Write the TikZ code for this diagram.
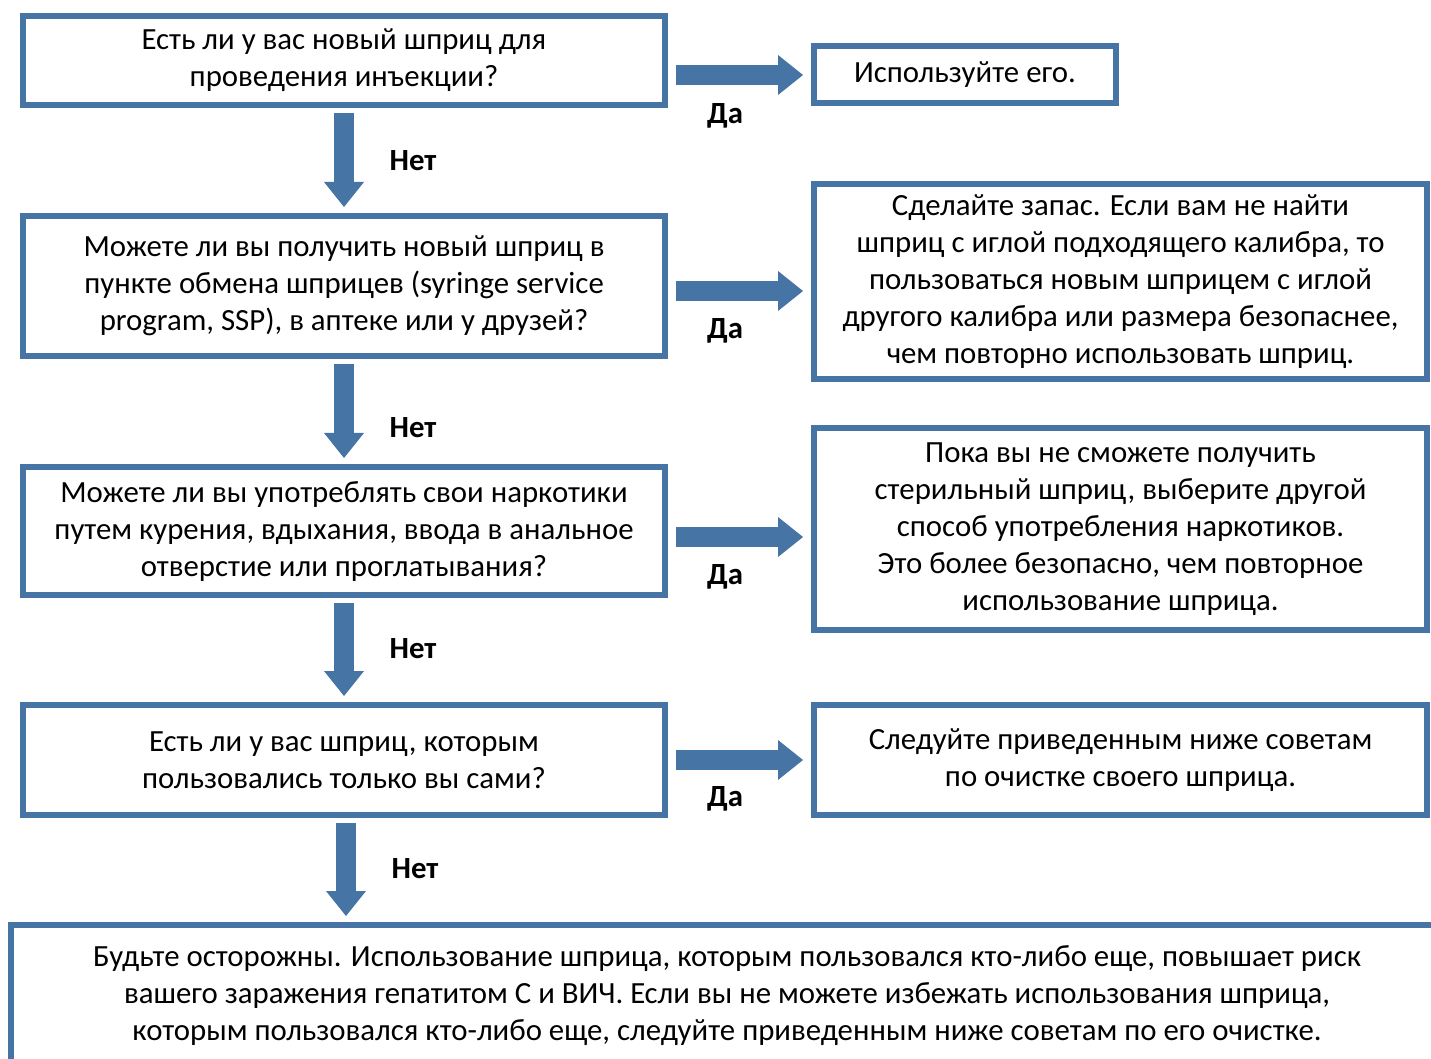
\documentclass[tikz,border=0pt]{standalone}
\usepackage{fontspec}
\setmainfont{Carlito}
\usetikzlibrary{arrows.meta, positioning}
\definecolor{boxcolor}{HTML}{4674A5}

\begin{document}
\begin{tikzpicture}[x=0.5pt, y=-0.5pt,
    qbox/.style={draw=boxcolor, line width=3pt, outer sep=1.5pt, inner sep=0pt,
                 minimum width=321pt, align=center,
                 font=\fontsize{15.4}{18.5}\selectfont},
    abox/.style={qbox, minimum width=306.5pt},
    flow/.style={draw=boxcolor, line width=10pt,
                 -{Triangle[width=20pt, length=12.5pt, line width=0pt]}},
    down/.style={flow, shorten <=2.5pt, shorten >=3pt},
    side/.style={flow, shorten <=4pt, shorten >=4pt},
    lbl/.style={font=\fontsize{15.4}{18}\selectfont\bfseries}
]
    \clip (0,0) rectangle (1431,1059);

    % questions
    \node[qbox, minimum height=44.5pt] (q1) at (344,60.5)
        {Есть ли у вас новый шприц для\\проведения инъекции?};
    \node[qbox, minimum height=70pt] (q2) at (344,286)
        {Можете ли вы получить новый шприц в\\пункте обмена шприцев (syringe service\\program, SSP), в аптеке или у друзей?};
    \node[qbox, minimum height=64pt] (q3) at (344,531)
        {Можете ли вы употреблять свои наркотики\\путем курения, вдыхания, ввода в анальное\\отверстие или проглатывания?};
    \node[qbox, minimum height=55pt] (q4) at (344,760)
        {Есть ли у вас шприц, которым\\пользовались только вы сами?};

    % answers
    \node[abox, minimum width=151pt, minimum height=28.5pt] (r1) at (965,74.5)
        {Используйте его.};
    \node[abox, minimum height=97.5pt] (r2) at (1120.5,281.5)
        {Сделайте запас. Если вам не найти\\шприц с иглой подходящего калибра, то\\пользоваться новым шприцем с иглой\\другого калибра или размера безопаснее,\\чем повторно использовать шприц.};
    \node[abox, minimum height=101pt] (r3) at (1120.5,529)
        {Пока вы не сможете получить\\стерильный шприц, выберите другой\\способ употребления наркотиков.\\Это более безопасно, чем повторное\\использование шприца.};
    \node[abox, minimum height=55pt] (r4) at (1120.5,760)
        {Следуйте приведенным ниже советам\\по очистке своего шприца.};

    \node[qbox, minimum width=716pt, minimum height=71pt] (end) at (727,996)
        {Будьте осторожны. Использование шприца, которым пользовался кто-либо еще, повышает риск\\вашего заражения гепатитом С и ВИЧ. Если вы не можете избежать использования шприца,\\которым пользовался кто-либо еще, следуйте приведенным ниже советам по его очистке.};

    % no
    \draw[down] (q1.south) -- (q2.north);
    \draw[down] (q2.south) -- (q3.north);
    \draw[down] (q3.south) -- (q4.north);
    \draw[down] ([xshift=1pt]q4.south) -- ([xshift=1pt]q4.south |- end.north);
    \node[lbl] (n1) at (413,161) {Нет};
    \node[lbl] (n2) at (413,428) {Нет};
    \node[lbl] (n3) at (413,649) {Нет};
    \node[lbl] (n4) at (415,869) {Нет};

    % yes
    \draw[side] ([yshift=-7.25pt]q1.east) -- ([yshift=-7.25pt]q1.east -| r1.west);
    \draw[side] ([yshift=-2.5pt]q2.east) -- ([yshift=-2.5pt]q2.east -| r2.west);
    \draw[side] ([yshift=-3pt]q3.east) -- ([yshift=-3pt]q3.east -| r3.west);
    \draw[side] (q4.east) -- (q4.east -| r4.west);
    \node[lbl] (y1) at (725,116) {Да};
    \node[lbl] (y2) at (725,331) {Да};
    \node[lbl] (y3) at (725,577) {Да};
    \node[lbl] (y4) at (725,799) {Да};
\end{tikzpicture}
\end{document}
